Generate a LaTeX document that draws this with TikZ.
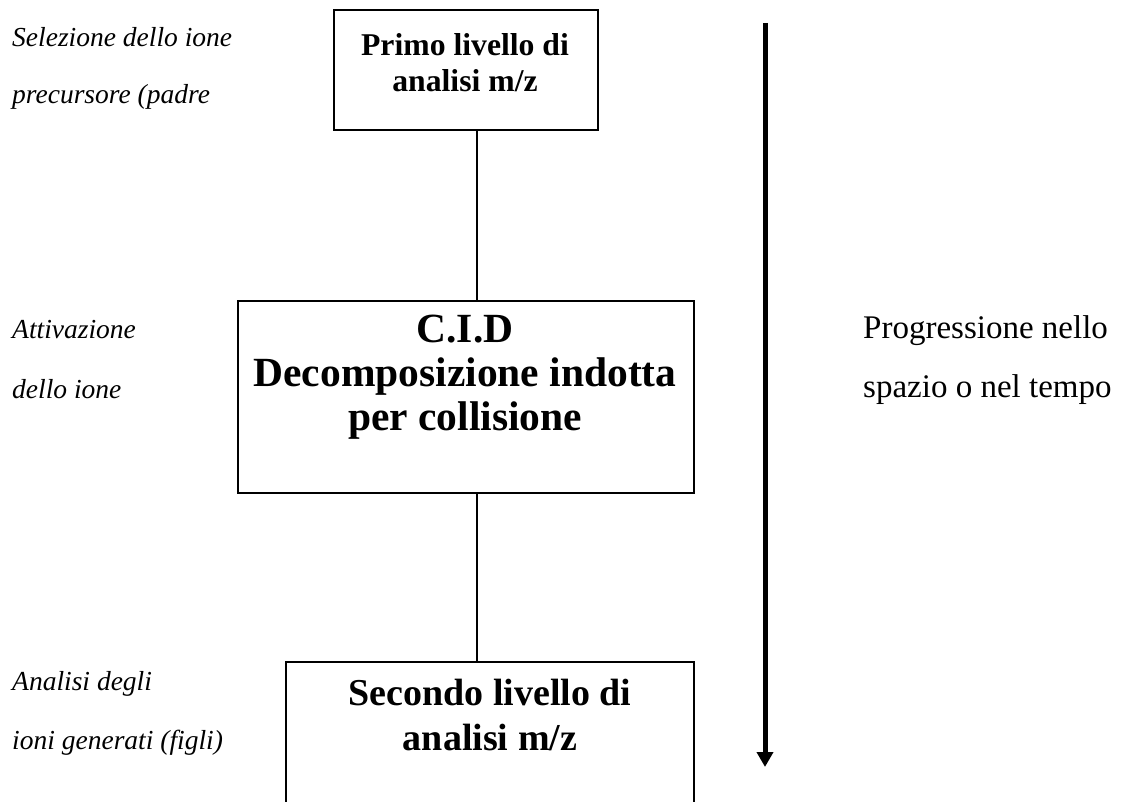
\documentclass[tikz,border=0pt]{standalone}
\usepackage{fontspec}
\setmainfont{Liberation Serif}
\usetikzlibrary{arrows.meta}
\begin{document}
\begin{tikzpicture}[x=1pt,y=-1pt,
  frame/.style={draw=black, line width=2pt, inner sep=0pt, anchor=north west},
  link/.style={draw=black, line width=1.6pt},
  lvlA/.style={font=\fontsize{31.7}{36}\selectfont\bfseries, inner sep=0pt, anchor=base},
  lvlB/.style={font=\fontsize{41.5}{46}\selectfont\bfseries, inner sep=0pt, anchor=base},
  lvlC/.style={font=\fontsize{38}{44}\selectfont\bfseries, inner sep=0pt, anchor=base},
  side/.style={font=\fontsize{27.5}{32}\selectfont\itshape, inner sep=0pt, anchor=base west},
  prog/.style={font=\fontsize{33}{38}\selectfont, inner sep=0pt, anchor=base west},
  timeline/.style={draw=black, line width=5pt, -{Triangle[width=16pt,length=15pt]}}
]
\useasboundingbox (0,0) rectangle (1122,802);
\fill[white] (0,0) rectangle (1122,802);

% the three stages
\node[frame, minimum width=264pt, minimum height=120pt] (b1) at (333,9) {};
\node[frame, minimum width=456pt, minimum height=192pt] (b2) at (237,300) {};
\node[frame, minimum width=408pt, minimum height=170pt] (b3) at (285,661) {};

\node[lvlA] (t1a) at (465,56) {Primo livello di};
\node[lvlA] (t1b) at (465,92) {analisi m/z};

\node[lvlB] (t2a) at (465,342) {C.I.D};
\node[lvlB] (t2b) at (465,386) {Decomposizione indotta};
\node[lvlB] (t2c) at (465,430) {per collisione};

\node[lvlC] (t3a) at (490,705) {Secondo livello di};
\node[lvlC] (t3b) at (490,750) {analisi m/z};

% links between stages
\coordinate (lx) at (477,0);
\draw[link] (b1.south -| lx) -- (b2.north -| lx);
\draw[link] (b2.south -| lx) -- (b3.north -| lx);

% descriptions on the left
\node[side] (s1a) at (12,47) {Selezione dello ione};
\node[side] (s1b) at (12,104) {precursore (padre};
\node[side] (s2a) at (12,339) {Attivazione};
\node[side] (s2b) at (12,398) {dello ione};
\node[side] (s3a) at (12,690) {Analisi degli};
\node[side] (s3b) at (12,749) {ioni generati (figli)};

% progression arrow
\coordinate (arrtop) at (765,23);
\coordinate (arrtip) at (765,767);
\draw[timeline] (arrtop) -- (arrtip);

\node[prog] (pa) at (863,338) {Progressione nello};
\node[prog] (pb) at (863,397) {spazio o nel tempo};
\end{tikzpicture}
\end{document}
